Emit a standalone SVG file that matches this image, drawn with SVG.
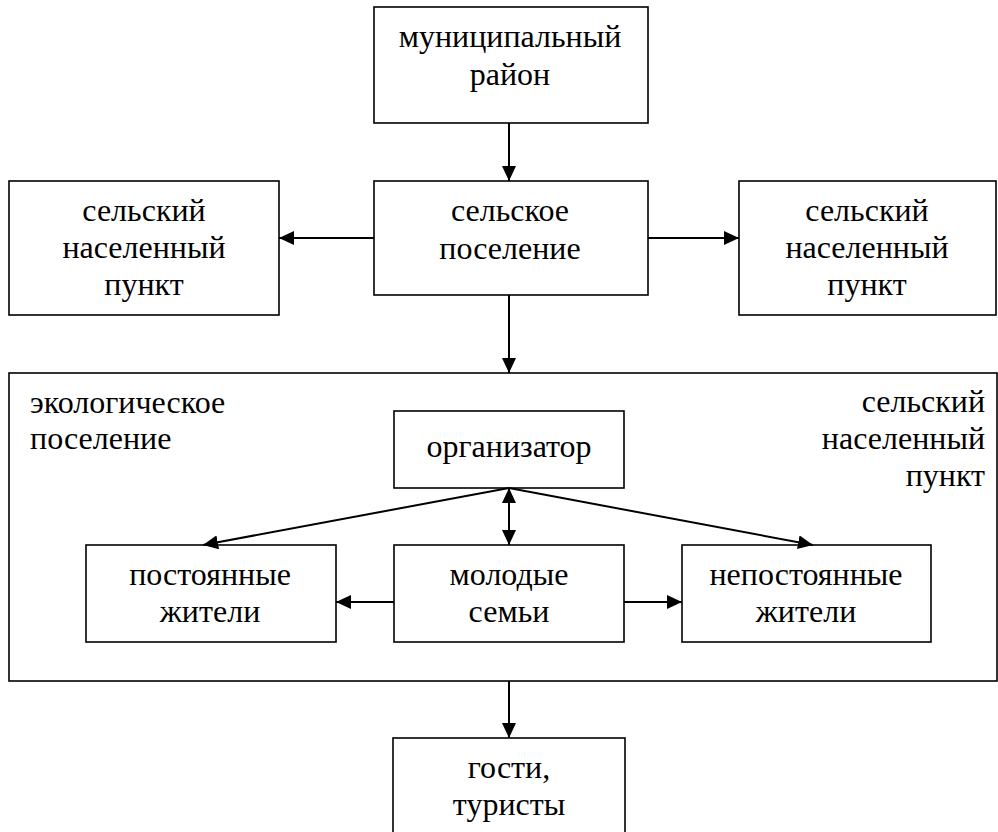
<svg xmlns="http://www.w3.org/2000/svg" width="998" height="832" viewBox="0 0 998 832">
<style>
rect{fill:none;stroke:#000;stroke-width:1.6}
#connectors line{stroke:#000;stroke-width:2;marker-end:url(#ah)}
</style>
<defs>
<marker id="ah" markerUnits="userSpaceOnUse" markerWidth="16" markerHeight="14" refX="15" refY="7" orient="auto-start-reverse">
<path d="M0,0 L15,7 L0,14 z" fill="#000"/>
</marker>
</defs>
<rect width="998" height="832" style="fill:#fff;stroke:none"/>
<g id="munic">
<rect x="374" y="7" width="274" height="116"/>
<text x="510" y="47" text-anchor="middle" style="font-family:'Liberation Serif',serif !important;font-size:32px">муниципальный</text>
<text x="510" y="85" text-anchor="middle" style="font-family:'Liberation Serif',serif !important;font-size:32px">район</text>
</g>
<g id="selskoe">
<rect x="374" y="181" width="274" height="114"/>
<text x="510" y="221" text-anchor="middle" style="font-family:'Liberation Serif',serif !important;font-size:32px">сельское</text>
<text x="510" y="259" text-anchor="middle" style="font-family:'Liberation Serif',serif !important;font-size:32px">поселение</text>
</g>
<g id="snp-left">
<rect x="9" y="181" width="270" height="134"/>
<text x="144" y="221" text-anchor="middle" style="font-family:'Liberation Serif',serif !important;font-size:32px">сельский</text>
<text x="144" y="258" text-anchor="middle" style="font-family:'Liberation Serif',serif !important;font-size:32px">населенный</text>
<text x="144" y="295" text-anchor="middle" style="font-family:'Liberation Serif',serif !important;font-size:32px">пункт</text>
</g>
<g id="snp-right">
<rect x="739" y="181" width="257" height="134"/>
<text x="867" y="221" text-anchor="middle" style="font-family:'Liberation Serif',serif !important;font-size:32px">сельский</text>
<text x="867" y="258" text-anchor="middle" style="font-family:'Liberation Serif',serif !important;font-size:32px">населенный</text>
<text x="867" y="295" text-anchor="middle" style="font-family:'Liberation Serif',serif !important;font-size:32px">пункт</text>
</g>
<g id="eco">
<rect x="9" y="373" width="988" height="308"/>
<text x="30" y="413" style="font-family:'Liberation Serif',serif !important;font-size:32px">экологическое</text>
<text x="30" y="449" style="font-family:'Liberation Serif',serif !important;font-size:32px">поселение</text>
<text x="985" y="412" text-anchor="end" style="font-family:'Liberation Serif',serif !important;font-size:32px">сельский</text>
<text x="985" y="449" text-anchor="end" style="font-family:'Liberation Serif',serif !important;font-size:32px">населенный</text>
<text x="985" y="486" text-anchor="end" style="font-family:'Liberation Serif',serif !important;font-size:32px">пункт</text>
</g>
<g id="org">
<rect x="394" y="411" width="230" height="77"/>
<text x="509" y="457" text-anchor="middle" style="font-family:'Liberation Serif',serif !important;font-size:32px">организатор</text>
</g>
<g id="post">
<rect x="86" y="545" width="250" height="97"/>
<text x="210" y="585" text-anchor="middle" style="font-family:'Liberation Serif',serif !important;font-size:32px">постоянные</text>
<text x="210" y="622" text-anchor="middle" style="font-family:'Liberation Serif',serif !important;font-size:32px">жители</text>
</g>
<g id="molod">
<rect x="394" y="545" width="230" height="97"/>
<text x="509" y="585" text-anchor="middle" style="font-family:'Liberation Serif',serif !important;font-size:32px">молодые</text>
<text x="509" y="622" text-anchor="middle" style="font-family:'Liberation Serif',serif !important;font-size:32px">семьи</text>
</g>
<g id="nepost">
<rect x="682" y="545" width="249" height="97"/>
<text x="806" y="585" text-anchor="middle" style="font-family:'Liberation Serif',serif !important;font-size:32px">непостоянные</text>
<text x="806" y="622" text-anchor="middle" style="font-family:'Liberation Serif',serif !important;font-size:32px">жители</text>
</g>
<g id="guests">
<rect x="393" y="738" width="232" height="110"/>
<text x="509" y="778" text-anchor="middle" style="font-family:'Liberation Serif',serif !important;font-size:32px">гости,</text>
<text x="509" y="815" text-anchor="middle" style="font-family:'Liberation Serif',serif !important;font-size:32px">туристы</text>
</g>
<g id="connectors">
<line x1="509" y1="123" x2="509" y2="181"/>
<line x1="374" y1="238" x2="279" y2="238"/>
<line x1="648" y1="238" x2="739" y2="238"/>
<line x1="509" y1="295" x2="509" y2="373"/>
<line x1="509" y1="488" x2="203" y2="545"/>
<line x1="509" y1="488" x2="813" y2="545"/>
<line x1="509" y1="488" x2="509" y2="545" style="marker-start:url(#ah)"/>
<line x1="394" y1="602" x2="336" y2="602"/>
<line x1="624" y1="602" x2="682" y2="602"/>
<line x1="509" y1="681" x2="509" y2="738"/>
</g>
</svg>
